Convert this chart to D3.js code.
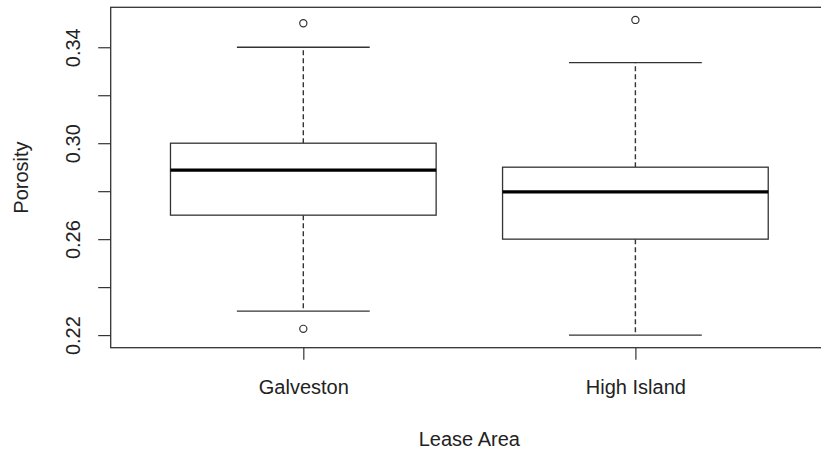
<!DOCTYPE html>
<html>
<head>
<meta charset="utf-8">
<script src="https://cdn.jsdelivr.net/npm/d3@7"></script>
<style>
  body { margin: 0; background: #fff; }
  text { font-family: "Liberation Sans", Arial, sans-serif; fill: #222; }
</style>
</head>
<body>
<div id="chart"></div>
<script>
// box statistics
var groups = ["Galveston", "High Island"];
var lowWhisker = [0.230, 0.220];
var q1 = [0.270, 0.260];
var median = [0.2888, 0.2797];
var q3 = [0.300, 0.290];
var highWhisker = [0.340, 0.3336];
var outliers = [[0.350, 0.2226], [0.3514]];
var yTicks = [0.22, 0.24, 0.26, 0.28, 0.30, 0.32, 0.34];
var yLabels = [0.22, 0.26, 0.30, 0.34];

var width = 821, height = 454;
// plot region (window.top is reserved, so use other names)
var plotL = 110.7, plotR = 828, plotT = 7.3, plotB = 347.7;

var svg = d3.select("#chart")
  .append("svg")
    .attr("width", width)
    .attr("height", height);

// R style: data range extended by 4%
var allVals = lowWhisker.concat(highWhisker, d3.merge(outliers));
var ymin = d3.min(allVals), ymax = d3.max(allVals);
var pad = (ymax - ymin) * 0.04;

var y = d3.scaleLinear()
  .domain([ymin - pad, ymax + pad])
  .range([plotB, plotT]);

var x = d3.scaleLinear()
  .domain([0.42, 2.58])
  .range([plotL, plotR]);

var boxW = x(1.4) - x(0.6);  // boxwex 0.8
var capW = x(1.2) - x(1);    // staple half width

// y axis
var yAxis = svg.append("g")
  .attr("transform", "translate(" + plotL + ",0)")
  .call(d3.axisLeft(y)
    .tickValues(yTicks)
    .tickSize(12.5)
    .tickFormat(function(d) {
      return yLabels.some(function(v) { return Math.abs(v - d) < 1e-9; }) ? d3.format(".2f")(d) : "";
    }));
yAxis.select(".domain").remove();
yAxis.selectAll("line").attr("stroke", "#333").attr("stroke-width", 1.2);
yAxis.selectAll("text")
  .attr("x", null).attr("dy", null)
  .attr("transform", "translate(-30.5,0) rotate(-90)")
  .attr("text-anchor", "middle")
  .style("font-size", "20px")
  .style("font-family", "'Liberation Sans', Arial, sans-serif")
  .attr("fill", "#222");

// x axis
var xAxis = svg.append("g")
  .attr("transform", "translate(0," + plotB + ")")
  .call(d3.axisBottom(x)
    .tickValues([1, 2])
    .tickSize(12)
    .tickFormat(function(d) { return groups[d - 1]; }));
xAxis.select(".domain").remove();
xAxis.selectAll("line").attr("stroke", "#333").attr("stroke-width", 1.2);
xAxis.selectAll("text")
  .attr("y", 46.5).attr("dy", null)
  .style("font-size", "20px")
  .style("font-family", "'Liberation Sans', Arial, sans-serif")
  .attr("fill", "#222");

// frame
svg.append("rect")
  .attr("x", plotL).attr("y", plotT)
  .attr("width", plotR - plotL).attr("height", plotB - plotT)
  .attr("fill", "none").attr("stroke", "#333").attr("stroke-width", 1.3);

// boxes
var g = svg.selectAll(".box")
  .data(groups)
  .enter()
  .append("g")
    .attr("class", "box");

g.append("line") // upper whisker
  .attr("x1", function(d, i) { return x(i + 1); })
  .attr("x2", function(d, i) { return x(i + 1); })
  .attr("y1", function(d, i) { return y(q3[i]); })
  .attr("y2", function(d, i) { return y(highWhisker[i]); })
  .attr("stroke", "#333").attr("stroke-width", 1.4).attr("stroke-dasharray", "5,3");

g.append("line") // lower whisker
  .attr("x1", function(d, i) { return x(i + 1); })
  .attr("x2", function(d, i) { return x(i + 1); })
  .attr("y1", function(d, i) { return y(q1[i]); })
  .attr("y2", function(d, i) { return y(lowWhisker[i]); })
  .attr("stroke", "#333").attr("stroke-width", 1.4).attr("stroke-dasharray", "5,3");

g.append("line") // upper cap
  .attr("x1", function(d, i) { return x(i + 1) - capW; })
  .attr("x2", function(d, i) { return x(i + 1) + capW; })
  .attr("y1", function(d, i) { return y(highWhisker[i]); })
  .attr("y2", function(d, i) { return y(highWhisker[i]); })
  .attr("stroke", "#333").attr("stroke-width", 1.3);

g.append("line") // lower cap
  .attr("x1", function(d, i) { return x(i + 1) - capW; })
  .attr("x2", function(d, i) { return x(i + 1) + capW; })
  .attr("y1", function(d, i) { return y(lowWhisker[i]); })
  .attr("y2", function(d, i) { return y(lowWhisker[i]); })
  .attr("stroke", "#333").attr("stroke-width", 1.3);

g.append("rect")
  .attr("x", function(d, i) { return x(i + 1) - boxW / 2; })
  .attr("y", function(d, i) { return y(q3[i]); })
  .attr("width", boxW)
  .attr("height", function(d, i) { return y(q1[i]) - y(q3[i]); })
  .attr("fill", "#fff").attr("stroke", "#333").attr("stroke-width", 1.3);

g.append("line") // median
  .attr("x1", function(d, i) { return x(i + 1) - boxW / 2; })
  .attr("x2", function(d, i) { return x(i + 1) + boxW / 2; })
  .attr("y1", function(d, i) { return y(median[i]); })
  .attr("y2", function(d, i) { return y(median[i]); })
  .attr("stroke", "#000").attr("stroke-width", 3.2);

g.selectAll("circle")
  .data(function(d, i) { return outliers[i].map(function(v) { return {i: i, v: v}; }); })
  .enter()
  .append("circle")
    .attr("cx", function(d) { return x(d.i + 1); })
    .attr("cy", function(d) { return y(d.v); })
    .attr("r", 3.6)
    .attr("fill", "none").attr("stroke", "#333").attr("stroke-width", 1.2);

// axis titles
svg.append("text")
  .attr("x", (plotL + plotR) / 2)
  .attr("y", 446)
  .attr("text-anchor", "middle")
  .style("font-size", "20px")
  .text("Lease Area");

svg.append("text")
  .attr("transform", "translate(28," + ((plotT + plotB) / 2) + ") rotate(-90)")
  .attr("text-anchor", "middle")
  .style("font-size", "20px")
  .text("Porosity");
</script>
</body>
</html>
